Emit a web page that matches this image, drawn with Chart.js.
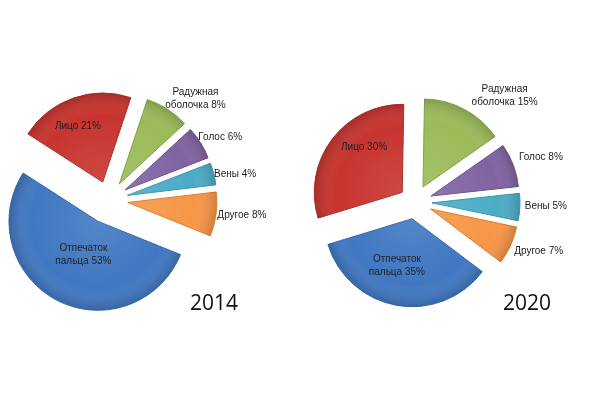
<!DOCTYPE html>
<html>
<head>
<meta charset="utf-8">
<script src="https://cdn.jsdelivr.net/npm/chart.js@4.4.1/dist/chart.umd.min.js"></script>
<style>
  body { margin: 0; background: #fff; }
  #wrap { position: relative; width: 600px; height: 400px; overflow: hidden; }
  .box { position: absolute; top: 0; width: 300px; height: 400px; }
  .year { position: absolute; font-family: "Open Sans", "Liberation Sans", sans-serif; font-size: 21px; color: #111; }
</style>
</head>
<body>
<div id="wrap">
  <div class="box" style="left:0"><canvas id="pie2014" width="300" height="400"></canvas></div>
  <div class="box" style="left:300px"><canvas id="pie2020" width="300" height="400"></canvas></div>
  <div class="year" style="left:190px; top:288px">2014</div>
  <div class="year" style="left:503px; top:288px">2020</div>
</div>
<script>
// Категории (по часовой стрелке)
const labels = [["Отпечаток", "пальца"], ["Лицо"], ["Радужная", "оболочка"], ["Голос"], ["Вены"], ["Другое"]];
const values2014 = [53, 21, 8, 6, 4, 8];
const values2020 = [35, 30, 15, 8, 5, 7];
const colors = ["#4178c2", "#c8342f", "#9bbb59", "#8064a2", "#4bacc6", "#f79646"];
const borders = ["#3565a8", "#a52a26", "#80a045", "#6a5088", "#3a94ad", "#d97c30"];
const insideLabels = [true, true, false, false, false, false];

// Вынос сегментов (px) и подгонка подписей
const explode2014 = [24, 19, 19, 19, 19, 19];
const explode2020 = [17, 16, 17, 17, 17, 17];
const nudge2014 = [[10, -14], [-7, -5], [16, 8], [1, 6], [0, 6], [4, -2]];
const nudge2020 = [[-6, -5], [4, -13], [30, 6], [7, 0], [4, -2], [8, -3]];

// Рисуем сегменты со сдвигом, без изменения радиуса
const explodedPie = {
    id: 'explodedPie',
    beforeDatasetDraw(chart, args, opts) {
        const ctx = chart.ctx;
        args.meta.data.forEach((arc, i) => {
            const mid = (arc.startAngle + arc.endAngle) / 2;
            const s = opts.explode[i];
            ctx.save();
            ctx.translate(Math.cos(mid) * s, Math.sin(mid) * s);
            arc.draw(ctx, chart.chartArea);
            // объём: светлый центр, тёмный край
            const g = ctx.createRadialGradient(arc.x, arc.y, 0, arc.x, arc.y, arc.outerRadius);
            g.addColorStop(0, 'rgba(255,255,255,0.10)');
            g.addColorStop(0.75, 'rgba(255,255,255,0)');
            g.addColorStop(1, 'rgba(0,0,0,0.16)');
            ctx.beginPath();
            ctx.moveTo(arc.x, arc.y);
            ctx.arc(arc.x, arc.y, arc.outerRadius - 0.5, arc.startAngle, arc.endAngle);
            ctx.closePath();
            ctx.fillStyle = g;
            ctx.fill();
            ctx.restore();
        });
        return false;
    },
    afterDatasetsDraw(chart, args, opts) {
        const ctx = chart.ctx;
        const meta = chart.getDatasetMeta(0);
        const data = chart.data.datasets[0].data;
        ctx.save();
        ctx.font = '10px "Liberation Sans", Arial, sans-serif';
        ctx.fillStyle = '#222';
        ctx.textAlign = 'center';
        ctx.textBaseline = 'middle';
        meta.data.forEach((arc, i) => {
            const mid = (arc.startAngle + arc.endAngle) / 2;
            const s = opts.explode[i];
            const r = insideLabels[i] ? arc.outerRadius * 0.6 + s : arc.outerRadius + s + 22;
            const x = arc.x + Math.cos(mid) * r + opts.nudge[i][0];
            const y = arc.y + Math.sin(mid) * r + opts.nudge[i][1];
            const lines = labels[i].slice();
            lines[lines.length - 1] += ' ' + data[i] + '%';
            lines.forEach((t, k) => {
                ctx.fillText(t, x, y + (k - (lines.length - 1) / 2) * 13);
            });
        });
        ctx.restore();
    }
};

function makePie(id, values, rotation, explode, nudge, padding) {
    return new Chart(document.getElementById(id), {
        type: 'pie',
        data: {
            labels: labels.map(l => l.join(' ')),
            datasets: [{
                data: values,
                backgroundColor: colors,
                borderColor: borders,
                borderWidth: 1
            }]
        },
        options: {
            responsive: false,
            animation: false,
            rotation: rotation,
            layout: { padding: padding },
            plugins: {
                legend: { display: false },
                tooltip: { enabled: false },
                explodedPie: { explode: explode, nudge: nudge }
            }
        },
        plugins: [explodedPie]
    });
}

makePie('pie2014', values2014, 112, explode2014, nudge2014, { left: 19.5, right: 101.5, top: 110.5, bottom: 110.5 });
makePie('pie2020', values2020, 127, explode2020, nudge2020, { left: 25.5, right: 95.5, top: 113.5, bottom: 109.5 });
</script>
</body>
</html>
